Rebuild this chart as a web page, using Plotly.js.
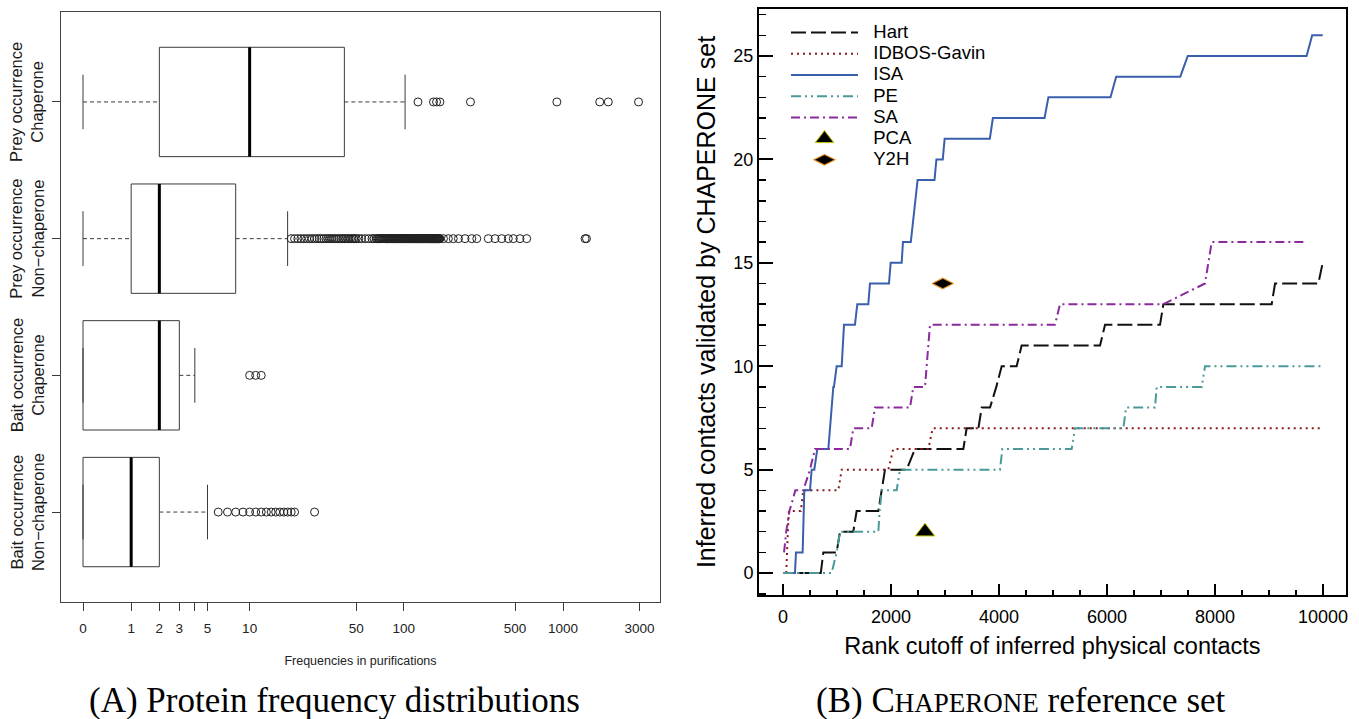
<!DOCTYPE html>
<html><head><meta charset="utf-8">
<script src="https://cdn.plot.ly/plotly-3.0.1.min.js"></script>
<style>html,body{margin:0;padding:0;background:#fff}#chart{width:1359px;height:719px}</style>
</head><body><div id="chart"></div>
<script>
// ---------- Panel A: protein frequency distributions (values in purifications) ----------
const groupLabels = ['Bait occurrence<br>Non\u2212chaperone', 'Bait occurrence<br>Chaperone',
                     'Prey occurrence<br>Non\u2212chaperone', 'Prey occurrence<br>Chaperone'];
const groupPos = [1, 2, 3, 4];
const whiskerLow = [0, 0, 0, 0];
const quart1 = [0, 0, 1, 2];
const medians = [1, 2, 2, 10];
const quart3 = [2, 3, 8, 42];
const whiskerHigh = [5, 4, 18, 102];
const outliersBaitNon = [6,7,8,9,10,11,12,13,14,15,16,17,18,19,20,27];
const outliersBaitChap = [10,11,12];
const outliersPreyNon = [19,20,21,22,23,24,25,26,27,28,29,30,31,32,33,34,35,36,37,38,39,40,41,42,43,44,45,46,47,48,49,
  50,52,54,57,60,63,65,67,
  68,69,70,71,72,73,74,75,76,77,78,79,80,81,82,83,84,85,86,87,88,89,90,91,92,93,94,95,96,97,98,99,100,
  101,102,103,104,105,106,107,108,109,110,111,112,113,114,115,116,117,118,119,120,121,122,123,124,125,
  126,127,128,129,130,131,132,133,134,135,136,137,138,139,140,141,142,143,144,145,146,147,148,149,150,
  151,152,153,154,155,156,157,158,159,160,161,162,163,164,165,166,167,168,169,
  178,191,205,221,243,268,288,340,375,413,454,488,537,592,1372,1400];
const outliersPreyChap = [123,154,161,169,263,914,1695,1917,2963];
const outlierSets = [outliersBaitNon, outliersBaitChap, outliersPreyNon, outliersPreyChap];
const freqTicks = [0, 1, 2, 3, 4, 5, 10, 50, 100, 500, 1000, 3000];
const freqTickText = ['0', '1', '2', '3', '', '5', '10', '50', '100', '500', '1000', '3000'];

// ---------- Panel B: CHAPERONE reference set ----------
const hartRank  = [300,700,747,994,1056,1302,1364,1766,1889,2290,2445,3340,3401,3618,3680,3834,3950,4050,4327,4420,5871,5964,6982,7044,9050,9112,9914,9994];
const hartCount = [0,0,1,1,2,2,3,3,5,5,6,6,7,7,8,8,9,10,10,11,11,12,12,13,13,14,14,15];
const idbosRank  = [60,70,90,110,330,376,1025,1087,1951,2043,2692,2772,9945];
const idbosCount = [0,1,2,3,3,4,4,5,5,6,6,7,7];
const isaRank  = [150,222,241,364,395,500,531,580,636,840,932,944,994,1087,1130,1333,1376,1580,1611,1963,1994,2198,2222,2367,2493,2806,2841,2959,2994,3831,3887,4844,4915,6065,6170,7357,7496,9696,9800,9996];
const isaCount = [0,0,1,1,4,4,5,5,6,6,9,9,10,10,12,12,13,13,14,14,15,15,16,16,19,19,20,20,21,21,22,22,23,23,24,24,25,25,26,26];
const peRank  = [0,901,994,1056,1766,1790,1830,2105,2167,4019,4062,5346,5408,6303,6353,6889,6920,7754,7815,10007];
const peCount = [0,0,1,2,2,3,4,4,5,5,6,6,7,7,8,8,9,9,10,10];
const saRank  = [20,60,120,230,376,500,593,1241,1302,1642,1704,2352,2414,2630,2722,5037,5130,7044,7815,7939,9667];
const saCount = [1,2,3,4,4,5,6,6,7,7,8,8,9,9,12,12,13,13,14,16,16];
const pcaRank = [2630], pcaCount = [2];
const y2hRank = [2960], y2hCount = [14];
const seriesNames = ['Hart', 'IDBOS-Gavin', 'ISA', 'PE', 'SA', 'PCA', 'Y2H'];

// ---------- build ----------
const W = 1359, H = 719;
const lg = v => Math.log10(v + 1);
const boxColor = '#3a3a3a';
const data = [];

// boxes (quartiles only; R-style whiskers drawn separately)
data.push({
  type: 'box', orientation: 'h', xaxis: 'x', yaxis: 'y',
  y: groupPos, q1: quart1.map(lg), median: medians.map(lg), q3: quart3.map(lg),
  lowerfence: quart1.map(lg), upperfence: quart3.map(lg),
  width: 0.8, whiskerwidth: 0, boxpoints: false,
  fillcolor: 'rgba(0,0,0,0)', line: {color: boxColor, width: 1},
  showlegend: false, hoverinfo: 'skip'
});
const medX = [], medY = [], whX = [], whY = [], stX = [], stY = [];
groupPos.forEach((p, i) => {
  medX.push(lg(medians[i]), lg(medians[i]), null); medY.push(p - 0.4, p + 0.4, null);
  whX.push(lg(whiskerLow[i]), lg(quart1[i]), null, lg(quart3[i]), lg(whiskerHigh[i]), null);
  whY.push(p, p, null, p, p, null);
  stX.push(lg(whiskerLow[i]), lg(whiskerLow[i]), null, lg(whiskerHigh[i]), lg(whiskerHigh[i]), null);
  stY.push(p - 0.2, p + 0.2, null, p - 0.2, p + 0.2, null);
});
data.push({type: 'scatter', mode: 'lines', x: whX, y: whY, xaxis: 'x', yaxis: 'y',
  line: {color: boxColor, width: 1, dash: '4px,3px'}, showlegend: false, hoverinfo: 'skip'});
data.push({type: 'scatter', mode: 'lines', x: stX, y: stY, xaxis: 'x', yaxis: 'y',
  line: {color: boxColor, width: 1}, showlegend: false, hoverinfo: 'skip'});
data.push({type: 'scatter', mode: 'lines', x: medX, y: medY, xaxis: 'x', yaxis: 'y',
  line: {color: '#000', width: 3}, showlegend: false, hoverinfo: 'skip'});
const oX = [], oY = [];
outlierSets.forEach((set, i) => set.forEach(v => { oX.push(lg(v)); oY.push(groupPos[i]); }));
data.push({type: 'scatter', mode: 'markers', x: oX, y: oY, xaxis: 'x', yaxis: 'y',
  marker: {symbol: 'circle-open', size: 8, color: '#222', line: {width: 1}},
  showlegend: false, hoverinfo: 'skip'});

// panel B lines
const lname = s => '<span style="font-size:18.5px">\u00a0\u00a0' + s + '</span>';
const curves = [
  [hartRank, hartCount, {color: '#111111', width: 2, dash: '15px,5px'}],
  [idbosRank, idbosCount, {color: '#8b1a1a', width: 2, dash: '2px,4px'}],
  [isaRank, isaCount, {color: '#3a5fad', width: 2}],
  [peRank, peCount, {color: '#4b9a9a', width: 2, dash: '10px,4px,2px,4px,2px,4px'}],
  [saRank, saCount, {color: '#8b2a9c', width: 2, dash: '9px,4px,2px,4px'}]
];
curves.forEach((c, i) => data.push({
  type: 'scatter', mode: 'lines', x: c[0], y: c[1], xaxis: 'x2', yaxis: 'y2',
  name: lname(seriesNames[i]), line: c[2], hoverinfo: 'skip'
}));
data.push({type: 'scatter', mode: 'markers', x: pcaRank, y: pcaCount, xaxis: 'x2', yaxis: 'y2',
  name: lname(seriesNames[5]),
  marker: {symbol: 'triangle-up', size: 17, color: '#000', line: {color: '#c4c400', width: 1}}});
data.push({type: 'scatter', mode: 'markers', x: y2hRank, y: y2hCount, xaxis: 'x2', yaxis: 'y2',
  name: lname(seriesNames[6]),
  marker: {symbol: 'diamond-wide', size: 15, color: '#000', line: {color: '#e08a1e', width: 1.2}}});

const annotations = groupLabels.map((t, i) => ({
  xref: 'paper', yref: 'y', x: 27 / W, y: groupPos[i], text: t, textangle: -90,
  showarrow: false, xanchor: 'center', yanchor: 'middle',
  font: {size: 16.5, color: '#1a1a1a', family: 'Liberation Sans, Arial, sans-serif'}
}));
annotations.push({xref: 'paper', yref: 'paper', x: 334 / W, y: 1 - 700 / H, showarrow: false,
  xanchor: 'center', yanchor: 'middle', text: '(A) Protein frequency distributions',
  font: {family: 'Liberation Serif, Times New Roman, serif', size: 35, color: '#000'}});
annotations.push({xref: 'paper', yref: 'paper', x: 1021 / W, y: 1 - 700 / H, showarrow: false,
  xanchor: 'center', yanchor: 'middle',
  text: '(B) C<span style="font-size:27px">HAPERONE</span> reference set',
  font: {family: 'Liberation Serif, Times New Roman, serif', size: 35, color: '#000'}});

const layout = {
  width: W, height: H, margin: {l: 0, r: 0, t: 0, b: 0},
  paper_bgcolor: '#fff', plot_bgcolor: 'rgba(0,0,0,0)',
  font: {family: 'Liberation Sans, Arial, sans-serif', color: '#000'},
  hovermode: false, showlegend: true,
  xaxis: {domain: [61 / W, 660 / W], anchor: 'y', range: [-0.1375, 3.606],
    tickmode: 'array', tickvals: freqTicks.map(lg), ticktext: freqTickText,
    ticks: 'outside', ticklen: 8, tickwidth: 1, tickcolor: boxColor, ticklabelstandoff: 6,
    showline: true, mirror: true, linecolor: '#444', linewidth: 1,
    showgrid: false, zeroline: false, tickfont: {size: 13.5, color: '#222'},
    title: {text: 'Frequencies in purifications', font: {size: 12.5, color: '#222'}, standoff: 21}},
  yaxis: {domain: [1 - 602 / H, 1 - 12 / H], anchor: 'x', range: [0.342, 4.658],
    tickmode: 'array', tickvals: groupPos, ticks: 'outside', ticklen: 8, tickcolor: boxColor,
    showticklabels: false, showline: true, mirror: true, linecolor: '#444', linewidth: 1,
    showgrid: false, zeroline: false},
  xaxis2: {domain: [759 / W, 1346 / W], anchor: 'y2', range: [-444, 10426],
    tick0: 0, dtick: 2000, ticks: 'inside', ticklen: 11, tickwidth: 2, tickcolor: '#000',
    minor: {dtick: 500, ticks: 'inside', ticklen: 5, tickwidth: 1.5, tickcolor: '#000'},
    exponentformat: 'none', separatethousands: false, tickformat: 'd',
    showline: true, mirror: true, linecolor: '#000', linewidth: 2,
    showgrid: false, zeroline: false, tickfont: {size: 18}, ticklabelstandoff: 4,
    title: {text: 'Rank cutoff of inferred physical contacts', font: {size: 23.5}, standoff: 12}},
  yaxis2: {domain: [1 - 595 / H, 1 - 9 / H], anchor: 'x2', range: [-1.06, 27.27],
    tick0: 0, dtick: 5, ticks: 'inside', ticklen: 14, tickwidth: 2, tickcolor: '#000',
    minor: {dtick: 1, ticks: 'inside', ticklen: 7, tickwidth: 1.5, tickcolor: '#000'},
    showline: true, mirror: true, linecolor: '#000', linewidth: 2,
    showgrid: false, zeroline: false, tickfont: {size: 18},
    title: {text: 'Inferred contacts validated by CHAPERONE set', font: {size: 25}, standoff: 11}},
  legend: {x: 786 / W, y: 1 - 17 / H, xanchor: 'left', yanchor: 'top',
    bgcolor: 'rgba(0,0,0,0)', borderwidth: 0, font: {size: 14}, itemwidth: 67, tracegroupgap: 0},
  annotations: annotations
};
Plotly.newPlot('chart', data, layout, {staticPlot: true, displayModeBar: false});
</script></body></html>
